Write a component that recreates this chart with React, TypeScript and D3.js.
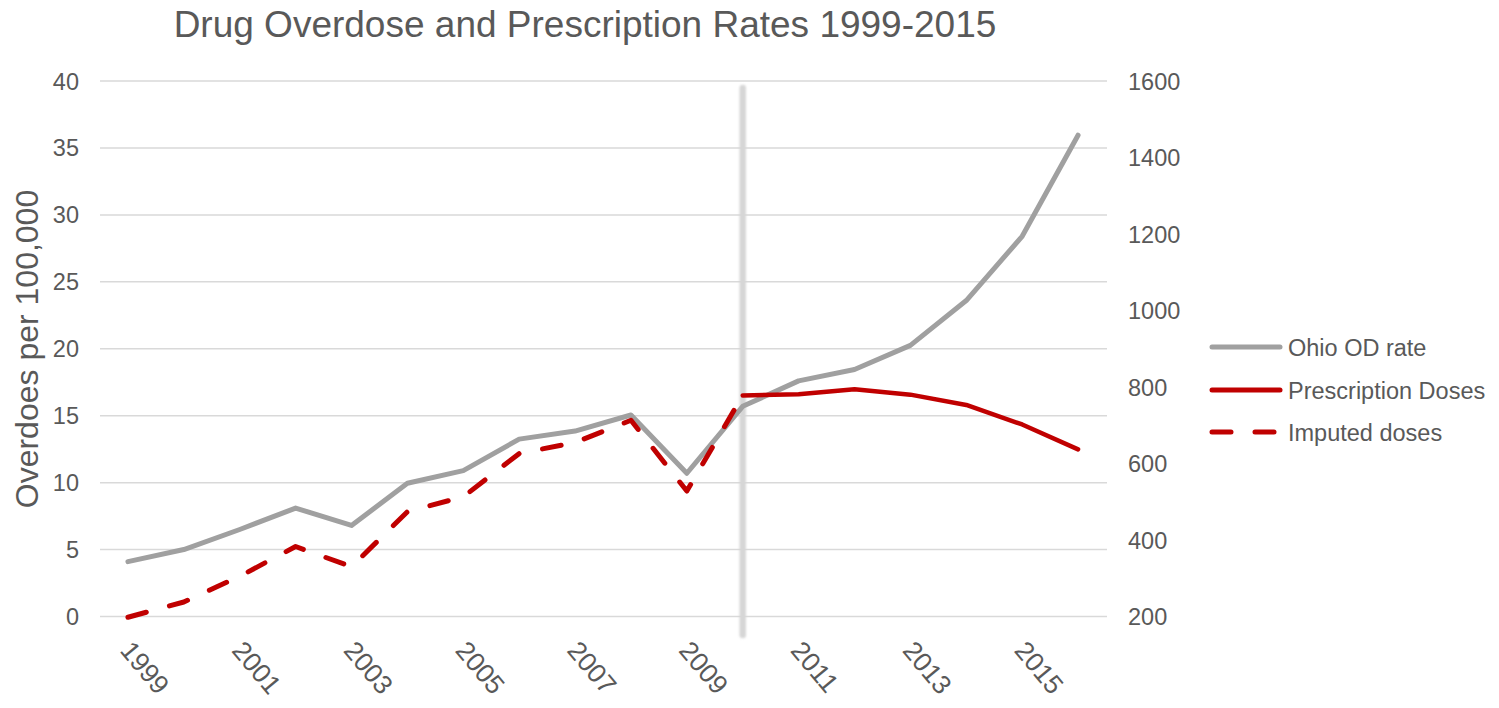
import React from "react";
import * as d3 from "d3";

const years = [1999, 2000, 2001, 2002, 2003, 2004, 2005, 2006, 2007, 2008, 2009, 2010, 2011, 2012, 2013, 2014, 2015, 2016];
const ohioOD = [4.1, 5.0, 6.5, 8.1, 6.8, 9.95, 10.9, 13.25, 13.85, 15.05, 10.7, 15.7, 17.6, 18.45, 20.25, 23.6, 28.4, 35.95];
const rxYears = [2010, 2011, 2012, 2013, 2014, 2015, 2016];
const rxDoses = [778, 781, 794, 780, 753, 702, 637];
const impYears = [1999, 2000, 2001, 2002, 2003, 2004, 2005, 2006, 2007, 2008, 2009, 2010];
const impDoses = [198, 238, 305, 383, 330, 474, 513, 626, 655, 713, 528, 778];
const leftTicks = [0, 5, 10, 15, 20, 25, 30, 35, 40];
const rightTicks = [200, 400, 600, 800, 1000, 1200, 1400, 1600];
const labelYears = [1999, 2001, 2003, 2005, 2007, 2009, 2011, 2013, 2015];
const legendItems = ["Ohio OD rate", "Prescription Doses", "Imputed doses"];
const markerYear = 2010;

const W = 1499, H = 708;
const PL = 100, PR = 1106, PT = 81, PB = 616.5;
const FONT = "'Liberation Sans', Arial, sans-serif";
const TXT = "#595959";
const GRAY = "#a0a0a0";
const RED = "#c00000";
const DASH = "19 24";

export default function App() {
  const x = d3.scalePoint<number>().domain(years).range([PL, PR]).padding(0.5);
  const yL = d3.scaleLinear().domain([0, 40]).range([PB, PT]);
  const yR = d3.scaleLinear().domain([200, 1600]).range([PB, PT]);

  const grayLine = d3.line<number>().x((_, i) => x(years[i])!).y((d) => yL(d));
  const rxLine = d3.line<number>().x((_, i) => x(rxYears[i])!).y((d) => yR(d));
  const impLine = d3.line<number>().x((_, i) => x(impYears[i])!).y((d) => yR(d));

  const legendY = [347, 390, 432];
  const styles = [
    { stroke: GRAY, width: 5, dash: undefined as string | undefined },
    { stroke: RED, width: 5, dash: undefined as string | undefined },
    { stroke: RED, width: 5, dash: DASH },
  ];
  const mx = x(markerYear)!;

  return (
    <svg width={W} height={H} style={{ position: "absolute", left: 0, top: 0, display: "block", background: "#fff" }} fontFamily={FONT}>
      <defs>
        <filter id="soft" filterUnits="userSpaceOnUse" x={mx - 20} y={60} width={40} height={600}>
          <feGaussianBlur stdDeviation="1" />
        </filter>
      </defs>
      <text x={585} y={37} textAnchor="middle" fontSize={37} fill={TXT}>
        Drug Overdose and Prescription Rates 1999-2015
      </text>

      {leftTicks.map((t) => (
        <g key={"g" + t}>
          <line x1={PL} x2={PR + 1} y1={yL(t)} y2={yL(t)} stroke="#d9d9d9" strokeWidth={1.5} />
          <text x={79} y={yL(t) + 8.5} textAnchor="end" fontSize={23.5} fill={TXT}>{t}</text>
        </g>
      ))}
      {rightTicks.map((t) => (
        <text key={"r" + t} x={1128} y={yR(t) + 8.5} textAnchor="start" fontSize={23.5} fill={TXT}>{t}</text>
      ))}

      <text transform={`translate(38,349) rotate(-90)`} textAnchor="middle" fontSize={32} fill={TXT}>
        Overdoes per 100,000
      </text>

      {labelYears.map((yr) => (
        <text key={"x" + yr} transform={`translate(${x(yr)! - 9},651) rotate(50)`} fontSize={26.5} fill={TXT}>
          {yr}
        </text>
      ))}

      <line x1={mx} x2={mx} y1={88} y2={635} stroke="#d6d6d6" strokeWidth={6.5} strokeLinecap="round" filter="url(#soft)" />

      <path d={grayLine(ohioOD)!} fill="none" stroke={GRAY} strokeWidth={5} strokeLinecap="round" strokeLinejoin="round" />
      <path d={rxLine(rxDoses)!} fill="none" stroke={RED} strokeWidth={4.5} strokeLinecap="round" strokeLinejoin="round" />
      <path d={impLine(impDoses)!} fill="none" stroke={RED} strokeWidth={5} strokeDasharray={DASH} strokeLinecap="round" strokeLinejoin="round" />

      {legendItems.map((name, i) => (
        <g key={name}>
          <line x1={1212} x2={1280} y1={legendY[i]} y2={legendY[i]} stroke={styles[i].stroke} strokeWidth={styles[i].width} strokeDasharray={styles[i].dash} strokeLinecap="round" />
          <text x={1288} y={legendY[i] + 8.5} fontSize={23.5} fill={TXT}>{name}</text>
        </g>
      ))}
    </svg>
  );
}
